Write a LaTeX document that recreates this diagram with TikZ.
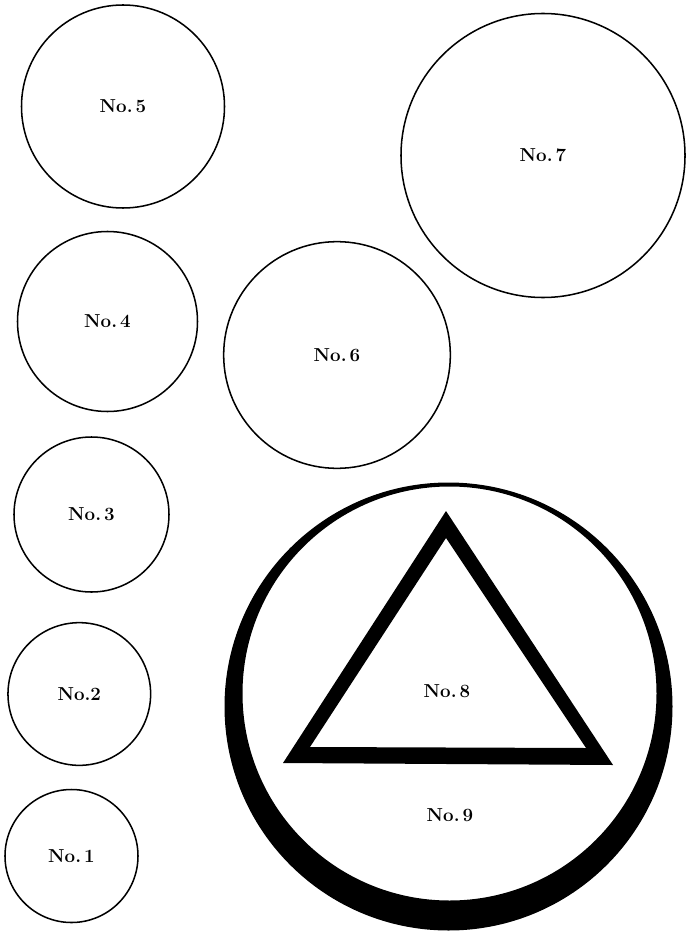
\documentclass[tikz,border=0pt]{standalone}
\usepackage{tikz}
\usetikzlibrary{
	positioning
}

\begin{document}
\begin{tikzpicture}[
	x=0.03cm,
	y=-0.03cm,
	every node/.style={
		font=\fontsize{16}{18}\selectfont\bfseries
	},
	disc/.style={
		draw=black,
		circle,
		line width=1.3pt,
		inner sep=0pt
	}
	]
	
	\useasboundingbox (0,0) rectangle (688,932);
	
	% plain circles
	\node[
	disc,
	minimum size=6.09cm
	] (N5) at (123,106.5) {No.\,5};
	
	\node[
	disc,
	minimum size=8.52cm
	] (N7) at (543,155.5) {No.\,7};
	
	\node[
	disc,
	minimum size=5.40cm
	] (N4) at (107.5,321.5) {No.\,4};
	
	\node[
	disc,
	minimum size=6.80cm
	] (N6) at (337,355) {No.\,6};
	
	\node[
	disc,
	minimum size=4.65cm
	] (N3) at (91.5,514.5) {No.\,3};
	
	\node[
	disc,
	minimum size=4.28cm
	] (N2) at (79.3,694) {No.2};
	
	\node[
	disc,
	minimum size=3.99cm
	] (N1) at (71.5,856) {No.\,1};
	
	% ring with crescent
	\fill[
	black,
	even odd rule
	] (448.5,706.5) circle[radius=224] (449.5,693.5) circle[radius=207];
	
	% triangle
	\coordinate (TA) at (446,511);
	\coordinate (TB) at (283,763);
	\coordinate (TC) at (613,765);
	\coordinate (IA) at (446,538);
	\coordinate (IB) at (310,747);
	\coordinate (IC) at (586,748);
	
	\fill[
	black,
	even odd rule
	] (TA) -- (TB) -- (TC) -- cycle (IA) -- (IB) -- (IC) -- cycle;
	
	\node (N8) at (447,691) {No.\,8};
	\node (N9) at (450,815) {No.\,9};
	
\end{tikzpicture}
\end{document}
